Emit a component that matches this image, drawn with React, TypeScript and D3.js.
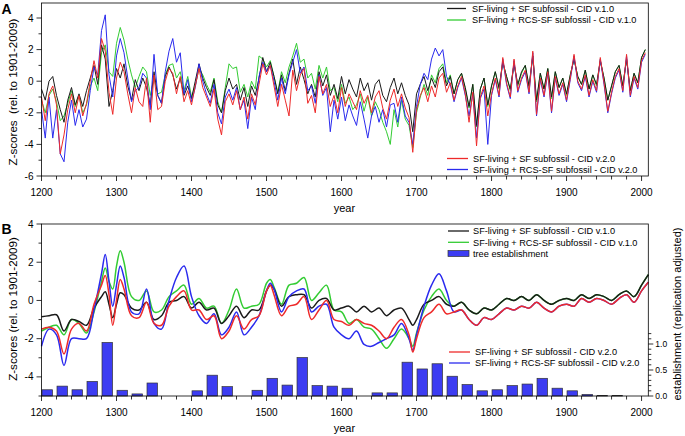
import React from 'react';
import * as d3 from 'd3';

// ---------- Panel A: annual-ish Z-scores (5-year readings) ----------
const aYears = d3.range(1200, 2006, 5);
const aBlack = [
  -0.5, -1.2, 0.0, 0.3, -0.9, -1.8, -2.6, -1.2, -0.4, -1.5, -0.8, -1.6, -0.6, 0.2, 1.0, -0.2, 2.3, 1.4, -1.6, -0.6,
  0.8, 0.2, 1.1, -0.3, -1.2, 0.1, -0.6, 0.2, -0.4, -1.5, 0.6, -0.9, -1.4, 0.3, 0.9, 0.4, -0.5, 0.2, -0.9, -0.3,
  -1.1, 0.0, 1.1, 0.2, -0.4, -0.9, 0.1, -1.5, -2.0, -0.6, 0.2, -0.5, -0.2, -1.2, -0.4, -1.6, -0.3, -0.9, 0.2, 1.5,
  0.6, 1.2, 0.3, -0.8, 0.4, -0.6, 0.5, 1.4, -0.2, 0.9, 0.1, -0.8, -0.2, -1.0, 0.6, -0.3, 0.4, -0.9, -0.2, -1.1,
  0.3, -0.8, 0.1, -0.5, -1.0, 0.2, -0.6, -0.1, -1.2, -0.2, 0.1, -0.9, -1.3, -0.4, 0.2, -0.8, -0.1, -0.9, -1.5, -3.2,
  -0.8, -0.2, 0.3, -0.6, 0.2, -0.4, 0.6, 0.9, -0.3, 0.3, -0.8, 0.1, 0.5, -0.4, -1.6, -0.2, -2.8, -0.5, 0.2, -1.5,
  -0.3, 0.6, -0.4, 1.2, 0.3, -0.5, 1.1, -0.2, 0.6, 1.0, -0.3, 1.6, -1.2, 0.5, -0.5, 0.8, -1.0, 0.6, -0.4, 0.2,
  -0.8, 0.4, 1.4, 0.3, -0.2, 0.7, -0.5, 0.4, -0.2, 1.3, 0.2, -1.2, -0.3, 0.6, 1.0, -0.3, 1.4, -0.6, 0.5, -0.1,
  1.5, 2.0,
];
const aGreen = [
  -1.2, -2.0, -0.9, -0.5, -1.3, -2.5, -2.2, -1.4, -0.6, -1.6, -0.9, -2.0, -1.5, -0.3, 0.2, -0.6, 1.8, 2.3, 0.6, 0.3,
  2.4, 3.4, 2.6, 1.4, 0.4, -0.4, 0.3, 0.9, 0.6, -0.9, 0.2, -0.8, -0.7, 0.4, 1.0, 1.1, 0.2, 0.6, -0.6, 0.3,
  -1.0, -0.3, 0.8, 0.4, -0.2, -0.7, 0.2, -1.3, -2.0, -0.4, 1.1, 0.8, 0.9, -0.7, -0.2, -1.0, 0.0, -0.5, 1.6, 1.4,
  0.9, 1.3, 0.3, -0.7, 0.6, -0.1, 0.9, 1.6, 2.4, 1.2, 1.4, 0.2, 0.5, -0.5, 1.0, 0.2, 0.9, -0.6, -0.4, -1.3,
  -0.2, -1.4, -1.0, -1.8, -1.5, -0.8, -1.9, -1.0, -2.2, -1.3, -1.8, -2.6, -3.2, -4.0, -1.8, -2.9, -1.2, -2.4, -2.8, -4.2,
  -2.0, -1.0, -0.2, -0.9, 0.4, -0.1, 0.8, 1.1, -0.1, 0.4, -0.8, 0.1, 0.5, -0.5, -1.7, -0.2, -2.9, -0.5, 0.2, -1.6,
  -0.3, 0.6, -0.5, 1.2, 0.3, -0.6, 1.1, -0.3, 0.5, 1.0, -0.4, 1.6, -1.3, 0.5, -0.5, 0.8, -1.1, 0.6, -0.4, 0.2,
  -0.9, 0.4, 1.4, 0.3, -0.2, 0.7, -0.5, 0.4, -0.3, 1.3, 0.2, -1.2, -0.3, 0.6, 1.0, -0.3, 1.4, -0.6, 0.5, -0.1,
  1.5, 2.0,
];
const aRed = [
  -1.0, -2.5, -0.8, -0.3, -1.5, -4.6, -3.4, -1.8, -0.8, -2.0, -0.9, -2.2, -1.4, 0.0, 1.3, 0.2, 2.7, 1.9, -0.7, -2.1,
  0.2, 1.2, 0.6, -0.8, -2.0, -0.4, -1.3, -1.6, 0.2, -2.6, 0.4, -1.8, -1.6, 0.0, 0.8, 0.5, -0.8, 0.3, -1.3, -0.6,
  -1.5, -0.3, 0.8, -0.4, -1.0, -1.6, -0.5, -2.4, -3.4, -1.3, -0.8, -1.5, -0.6, -1.8, -1.0, -2.4, -0.8, -1.5, -0.2, 1.1,
  0.4, 1.0, -0.3, -1.6, -0.2, -1.2, -2.2, 0.7, -0.6, 0.4, 0.8, -1.4, -0.9, -2.0, 0.3, -0.8, -0.2, -1.6, -0.9, -2.0,
  -0.4, -1.6, -0.8, -1.3, -1.8, -0.6, -1.4, -0.9, -2.0, -1.0, -0.6, -1.7, -2.4, -1.2, -0.5, -1.6, -0.8, -1.7, -2.3, -4.5,
  -1.8, -0.9, -0.4, -1.3, -0.3, -1.0, 0.2, 0.5, -0.7, -0.1, -1.2, -0.3, 0.3, -0.8, -2.6, -0.7, -4.1, -1.0, -0.3, -2.2,
  -0.8, 0.2, -0.9, 1.5, -0.1, -1.0, 1.4, -0.6, 0.2, 0.7, -0.7, 1.9, -2.1, 0.2, -0.9, 0.6, -1.9, 0.3, -0.8, -0.1,
  -1.2, 0.2, 1.7, 0.0, -0.5, 0.4, -0.9, 0.1, -0.6, 1.5, -0.1, -1.9, -0.7, 0.3, 0.8, -0.6, 1.7, -0.9, 0.3, -0.4,
  1.3, 1.8,
];
const aBlue = [
  -1.8, -3.6, -1.0, -3.6, -1.8, -4.6, -5.1, -2.6, -1.2, -2.8, -1.8, -2.9, -2.4, -0.6, 0.9, 0.4, 3.2, 4.2, 0.4, -1.0,
  1.6, 2.7, 1.8, 0.2, -1.3, -0.6, -0.4, 0.5, 0.2, -1.8, 1.7, -0.9, -1.4, 0.6, 1.9, 2.7, 1.2, 1.8, -0.8, 0.1,
  -1.3, -0.4, 1.1, 0.0, -0.8, -1.4, -0.2, -2.0, -2.7, -1.0, -0.5, -1.2, -0.4, -1.8, -1.2, -3.0, -1.0, -1.8, 0.3, 1.2,
  0.6, 1.0, 0.0, -1.2, 0.2, -0.8, 0.4, 1.2, 2.0, 0.5, 0.9, -0.6, -0.3, -1.4, 0.4, -0.9, -0.4, -3.2, -1.2, -2.4,
  -1.0, -2.5, -1.5, -2.2, -2.8, -1.3, -2.4, -3.6, -2.2, -1.6, -2.6, -1.8, -2.9, -1.5, -1.4, -2.6, -1.0, -2.2, -2.6, -4.0,
  -1.6, -0.2, 0.5, 0.1, 1.4, 2.1, 1.6, 2.0, 0.3, -0.2, -1.3, -0.4, 0.2, -0.9, -2.2, -0.8, -3.6, -1.1, -0.5, -4.0,
  -0.9, 0.1, -1.0, 1.4, -0.2, -1.1, 1.3, -0.7, 0.1, 0.6, -0.8, 1.8, -2.2, 0.1, -1.0, 0.5, -2.0, 0.2, -0.9, -0.2,
  -1.3, 0.1, 1.6, -0.1, -0.6, 0.3, -1.0, 0.0, -0.7, 1.4, -0.2, -2.0, -0.8, 0.2, 0.7, -0.7, 1.6, -1.0, 0.2, -0.5,
  1.2, 1.7,
];

// ---------- Panel B: smoothed Z-scores ----------
const bYears = [
  1200, 1210, 1220, 1230, 1240, 1250, 1260, 1270, 1280, 1285, 1290, 1295, 1300, 1305, 1310, 1320, 1330, 1340, 1350, 1360,
  1370, 1380, 1390, 1400, 1410, 1420, 1430, 1440, 1450, 1460, 1470, 1480, 1490, 1500, 1505, 1510, 1520, 1530, 1540, 1550,
  1560, 1570, 1580, 1590, 1600, 1610, 1620, 1630, 1640, 1650, 1660, 1670, 1680, 1690, 1695, 1700, 1710, 1720, 1730, 1740,
  1750, 1760, 1770, 1780, 1790, 1800, 1810, 1820, 1830, 1840, 1850, 1860, 1870, 1880, 1890, 1900, 1910, 1920, 1930, 1940,
  1950, 1960, 1970, 1980, 1990, 2000, 2009,
];
const bBlack = [
  -0.85, -0.8, -0.75, -1.6, -1.0, -1.1, -1.3, -0.4, 0.2, 0.45, -0.2, -0.9, -0.2, 0.4, 0.3, -0.4, -0.5, -0.1, -1.0, -0.8,
  -0.1, 0.0, 0.2, -0.4, -0.1, -0.5, -0.4, -1.2, -0.8, -0.3, -0.9, -0.5, -0.5, 0.5, 0.8, 0.6, -0.3, 0.2, 0.3, 0.3,
  -0.4, 0.0, 0.1, -0.5, -0.4, -0.3, -0.6, -0.3, -0.6, -0.4, -0.8, -0.5, -0.4, -1.0, -1.3, -1.0, -0.2, 0.0, 0.2, -0.2,
  -0.3, -0.1, -0.5, -0.7, -0.4, -0.5, -0.2, 0.1, 0.0, 0.2, 0.0, 0.3, 0.0, -0.2, 0.0, 0.1, 0.0, 0.3, 0.1, 0.3,
  0.2, 0.0, 0.3, 0.5, 0.2, 0.8, 1.35,
];
const bGreen = [
  -1.6, -1.4, -1.3, -1.8, -1.0, -1.2, -1.7, -0.6, 1.0, 1.7, 1.0, 0.6, 1.8, 2.6, 2.0, 0.2, 0.0, 0.5, -0.6, -0.5,
  0.2, 0.5, 0.8, -0.2, 0.1, -0.4, -0.3, -1.2, -0.5, 0.6, -0.4, -0.3, -0.2, 0.9, 1.1, 0.7, -0.2, 0.8, 0.9, 1.2,
  0.0, 0.4, 0.8, -0.5, -0.6, -1.2, -1.0, -1.4, -1.5, -2.0, -2.5, -2.0, -1.5, -2.0, -2.4, -1.7, -0.5, 0.2, 0.6, 0.0,
  -0.3, -0.1, -0.5, -0.7, -0.4, -0.5, -0.2, 0.1, 0.0, 0.2, 0.0, 0.3, 0.0, -0.2, 0.0, 0.1, 0.0, 0.3, 0.1, 0.3,
  0.2, 0.0, 0.3, 0.5, 0.2, 0.8, 1.35,
];
const bRed = [
  -1.5, -1.4, -1.6, -2.8, -1.5, -1.2, -1.6, -0.2, 0.8, 1.3, 0.3, -1.3, 0.0, 1.1, 0.6, -0.8, -0.9, -0.1, -1.2, -1.3,
  -0.3, 0.2, 0.5, -0.5, -0.5, -1.0, -0.8, -2.0, -1.6, -0.8, -1.5, -1.0, -0.8, 0.5, 0.8, 0.3, -0.8, -0.3, -0.2, 0.2,
  -1.0, -0.5, 0.0, -1.0, -1.1, -1.3, -1.0, -1.2, -1.3, -1.6, -2.0, -1.4, -1.0, -1.8, -2.7, -2.0, -0.9, -0.6, -0.2, -0.7,
  -0.6, -0.5, -1.0, -1.3, -0.9, -1.0, -0.7, -0.4, -0.5, -0.3, -0.4, -0.1, -0.4, -0.6, -0.3, -0.2, -0.3, 0.1, -0.1, 0.1,
  0.0, -0.2, 0.1, 0.3, -0.1, 0.5, 0.95,
];
const bBlue = [
  -2.4, -1.5, -1.8, -3.4, -2.0, -2.0, -2.0, -0.5, 1.4, 2.4, 1.0, -0.3, 0.8, 1.8, 1.2, -0.6, -0.7, 0.6, -1.2, -1.5,
  0.0, 1.2, 1.8, 0.2, -0.8, -1.2, -0.7, -1.8, -1.4, -0.6, -1.8, -1.4, -0.8, 0.5, 0.9, 0.6, -0.6, 0.2, 0.5, 0.6,
  -0.6, -0.3, -0.2, -1.4, -1.8, -2.0, -1.6, -2.3, -2.4, -2.2, -2.0, -1.8, -1.2, -2.0, -2.6, -1.8, -0.3, 0.8, 1.4, 0.5,
  -0.6, -0.5, -1.0, -1.3, -0.9, -1.0, -0.7, -0.4, -0.5, -0.3, -0.4, -0.1, -0.4, -0.6, -0.3, -0.2, -0.3, 0.1, -0.1, 0.1,
  0.0, -0.2, 0.1, 0.3, -0.1, 0.5, 0.95,
];

// ---------- tree establishment (20-year bins, bin start year) ----------
const estBins = [
  1200, 1220, 1240, 1260, 1280, 1300, 1320, 1340, 1360, 1380, 1400, 1420, 1440, 1460, 1480, 1500, 1520, 1540, 1560, 1580,
  1600, 1620, 1640, 1660, 1680, 1700, 1720, 1740, 1760, 1780, 1800, 1820, 1840, 1860, 1880, 1900, 1920, 1940, 1960,
];
const estValues = [
  0.12, 0.19, 0.12, 0.28, 1.03, 0.11, 0.04, 0.25, 0, 0, 0.1, 0.4, 0.18, 0, 0.11, 0.34, 0.21, 0.74, 0.2, 0.19,
  0.15, 0, 0.06, 0.06, 0.65, 0.52, 0.62, 0.38, 0.22, 0.1, 0.12, 0.2, 0.23, 0.34, 0.15, 0.1, 0.03, 0.01, 0.01,
];

const yTicksA = [-6, -4, -2, 0, 2, 4];
const yTicksB = [-4, -2, 0, 2, 4];
const xTickLabels = [1200, 1300, 1400, 1500, 1600, 1700, 1800, 1900, 2000];
const rTicks = [0, 0.5, 1.0];

const legendTop = ['SF-living + SF subfossil - CID v.1.0', 'SF-living + RCS-SF subfossil - CID v.1.0'];
const legendBottom = ['SF-living + SF subfossil - CID v.2.0', 'SF-living + RCS-SF subfossil - CID v.2.0'];
const barLegend = 'tree establishment';

const C_BLACK = '#1a1a1a';
const C_GREEN = '#33cc33';
const C_RED = '#ee2a2a';
const C_BLUE = '#2a2aee';
const C_BAR = '#3c3cf2';

export default function App() {
  const W = 685, H = 436;
  const x = d3.scaleLinear().domain([1200, 2009]).range([41.5, 648.3]);
  const yA = d3.scaleLinear().domain([-6, 4]).range([176, 18]);
  const yB = d3.scaleLinear().domain([-5, 4]).range([396, 224]);
  const yR = d3.scaleLinear().domain([0, 1]).range([396, 344]);
  const font = 'Liberation Sans, Arial, sans-serif';

  const lineA = (vals: number[]) =>
    d3.line<number>().x((_, i) => x(aYears[i])).y((v) => yA(v))(vals) || '';
  const lineB = (vals: number[]) =>
    d3.line<number>().x((_, i) => x(bYears[i])).y((v) => yB(v)).curve(d3.curveCatmullRom.alpha(0.5))(vals) || '';

  const xMinor = d3.range(1200, 2001, 20);
  const topA = 3;
  const x0 = x(1200), x1 = x(2009);

  const xAxis = (y0: number, key: string) => (
    <g key={key}>
      {xMinor.map((t) => (
        <line key={t} x1={x(t)} x2={x(t)} y1={y0} y2={y0 + (t % 100 === 0 ? 5 : 3.5)} stroke="#000" strokeWidth={0.8} />
      ))}
      {xTickLabels.map((t) => (
        <text key={'l' + t} x={x(t)} y={y0 + 20} textAnchor="middle" fontSize={10}>{t}</text>
      ))}
      <text x={(x0 + x1) / 2 - 0.5} y={y0 + 36} textAnchor="middle" fontSize={11}>year</text>
    </g>
  );

  const yAxis = (scale: d3.ScaleLinear<number, number>, ticks: number[], lo: number, hi: number) => (
    <g>
      {d3.range(lo, hi + 1, 1).map((t) => (
        <line key={t} x1={x0} x2={x0 - (t % 2 === 0 ? 5 : 3)} y1={scale(t)} y2={scale(t)} stroke="#000" strokeWidth={0.8} />
      ))}
      {ticks.map((t) => (
        <text key={'l' + t} x={x0 - 8} y={scale(t) + 3.5} textAnchor="end" fontSize={10}>{t}</text>
      ))}
    </g>
  );

  const rMinor = d3.range(0, 1.21, 0.1);

  return (
    <svg width={W} height={H} style={{ position: 'fixed', left: 0, top: 0, background: '#fff' }} fontFamily={font}>
      <rect x={0} y={0} width={W} height={H} fill="#fff" />

      {/* ---------------- Panel A ---------------- */}
      <text x={1.5} y={14} fontSize={14} fontWeight="bold">A</text>
      <g>
        <path d={lineA(aGreen)} fill="none" stroke={C_GREEN} strokeWidth={1} />
        <path d={lineA(aBlack)} fill="none" stroke={C_BLACK} strokeWidth={1} />
        <path d={lineA(aBlue)} fill="none" stroke={C_BLUE} strokeWidth={1} />
        <path d={lineA(aRed)} fill="none" stroke={C_RED} strokeWidth={1} />
      </g>
      <rect x={x0} y={topA} width={x1 - x0} height={yA(-6) - topA} fill="none" stroke="#000" strokeWidth={0.8} />
      {yAxis(yA, yTicksA, -6, 4)}
      {xAxis(yA(-6), 'xa')}
      <text transform={`translate(17,92) rotate(-90)`} textAnchor="middle" fontSize={11.6} style={{ whiteSpace: 'pre' }}>
        {'Z-scores  (rel. to 1901-2009)'}
      </text>
      {legendTop.map((s, i) => (
        <g key={s}>
          <line x1={447} x2={466} y1={8.5 + i * 11.5} y2={8.5 + i * 11.5} stroke={i === 0 ? C_BLACK : C_GREEN} strokeWidth={1.3} />
          <text x={472} y={11.8 + i * 11.5} fontSize={9.2}>{s}</text>
        </g>
      ))}
      {legendBottom.map((s, i) => (
        <g key={s}>
          <line x1={447} x2={468} y1={158.5 + i * 11} y2={158.5 + i * 11} stroke={i === 0 ? C_RED : C_BLUE} strokeWidth={1.3} />
          <text x={473} y={161.8 + i * 11} fontSize={9.2}>{s}</text>
        </g>
      ))}

      {/* ---------------- Panel B ---------------- */}
      <text x={1.5} y={234} fontSize={14} fontWeight="bold">B</text>
      <g>
        {estBins.map((b, i) =>
          estValues[i] > 0 ? (
            <rect key={b} x={x(b) + 0.5} y={yR(estValues[i])} width={x(b + 14) - x(b)} height={yR(0) - yR(estValues[i])}
              fill={C_BAR} stroke="#333" strokeWidth={0.7} />
          ) : null
        )}
      </g>
      <g>
        <path d={lineB(bGreen)} fill="none" stroke={C_GREEN} strokeWidth={1.5} />
        <path d={lineB(bBlack)} fill="none" stroke={C_BLACK} strokeWidth={1.5} />
        <path d={lineB(bBlue)} fill="none" stroke={C_BLUE} strokeWidth={1.5} />
        <path d={lineB(bRed)} fill="none" stroke={C_RED} strokeWidth={1.5} />
      </g>
      <rect x={x0} y={yB(4)} width={x1 - x0} height={yB(-5) - yB(4)} fill="none" stroke="#000" strokeWidth={0.8} />
      {yAxis(yB, yTicksB, -5, 4)}
      {xAxis(yB(-5), 'xb')}
      <text transform={`translate(17,309) rotate(-90)`} textAnchor="middle" fontSize={11.6}>
        Z-scores (rel. to 1901-2009)
      </text>
      {/* right axis */}
      {rMinor.map((t, i) => (
        <line key={i} x1={x1} x2={x1 + (i % 5 === 0 ? 5 : 3)} y1={yR(t)} y2={yR(t)} stroke="#000" strokeWidth={0.8} />
      ))}
      {rTicks.map((t) => (
        <text key={t} x={x1 + 7} y={yR(t) + 3} fontSize={8.5}>{t.toFixed(1)}</text>
      ))}
      <text transform={`translate(681,314) rotate(-90)`} textAnchor="middle" fontSize={11}>
        establishment (replication adjusted)
      </text>
      {legendTop.map((s, i) => (
        <g key={'b' + s}>
          <line x1={448} x2={469} y1={231 + i * 11.3} y2={231 + i * 11.3} stroke={i === 0 ? C_BLACK : C_GREEN} strokeWidth={1.3} />
          <text x={473} y={234.3 + i * 11.3} fontSize={9.2}>{s}</text>
        </g>
      ))}
      <rect x={448} y={250.5} width={21} height={6} fill={C_BAR} stroke="#333" strokeWidth={0.7} />
      <text x={473} y={257} fontSize={9.2}>{barLegend}</text>
      {legendBottom.map((s, i) => (
        <g key={'b' + s}>
          <line x1={449} x2={470} y1={352 + i * 11} y2={352 + i * 11} stroke={i === 0 ? C_RED : C_BLUE} strokeWidth={1.3} />
          <text x={475} y={355.3 + i * 11} fontSize={9.2}>{s}</text>
        </g>
      ))}
    </svg>
  );
}
